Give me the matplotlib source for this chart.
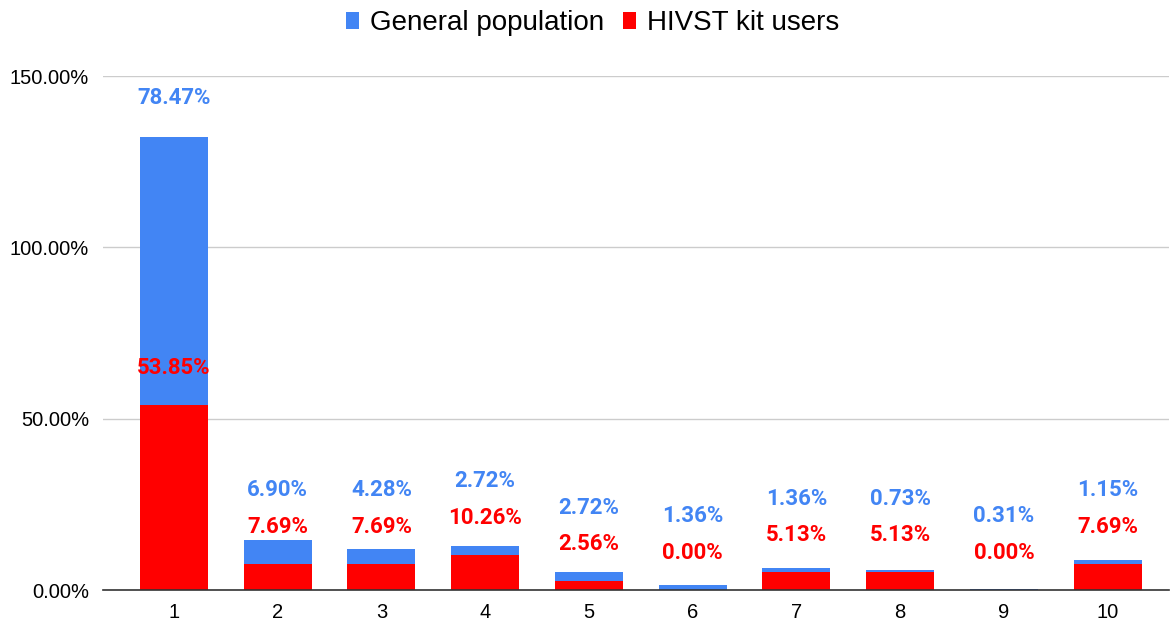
import matplotlib
matplotlib.use("Agg")
import matplotlib.pyplot as plt
from matplotlib.ticker import FuncFormatter, MultipleLocator

categories = ["1", "2", "3", "4", "5", "6", "7", "8", "9", "10"]
hivst = [53.85, 7.69, 7.69, 10.26, 2.56, 0.00, 5.13, 5.13, 0.00, 7.69]
general = [78.47, 6.90, 4.28, 2.72, 2.72, 1.36, 1.36, 0.73, 0.31, 1.15]

BLUE = "#4285f4"
RED = "#ff0000"

fig = plt.figure(figsize=(11.71, 6.24), dpi=100)
ax = fig.add_axes([103/1171, 34/624, (1169-103)/1171, (590-76)/624])

x = list(range(1, len(categories) + 1))
w = 0.655
ax.bar(x, hivst, width=w, color=RED, label="HIVST kit users", zorder=3)
ax.bar(x, general, width=w, bottom=hivst, color=BLUE, label="General population", zorder=3)

for xi, r, g in zip(x, hivst, general):
    ry = r + 10.8
    by = max(r + g + 11.4, ry + 10.7)
    ax.text(xi, ry, f"{r:.2f}%", ha="center", va="center", color=RED,
            fontsize=16, fontweight="bold", family="Roboto", zorder=4)
    ax.text(xi, by, f"{g:.2f}%", ha="center", va="center", color=BLUE,
            fontsize=16, fontweight="bold", family="Roboto", zorder=4)

ax.set_xlim(0.317, 10.59)
ax.set_ylim(0, 150)
ax.set_xticks(x)
ax.set_xticklabels(categories)
ax.yaxis.set_major_locator(MultipleLocator(50))
ax.yaxis.set_major_formatter(FuncFormatter(lambda v, p: f"{v:.2f}%"))
for lab in ax.get_xticklabels() + ax.get_yticklabels():
    lab.set_family("Liberation Sans")
    lab.set_fontsize(14.5)
ax.tick_params(axis="both", length=0)
ax.tick_params(axis="x", pad=9)
ax.tick_params(axis="y", pad=10)
ax.grid(axis="y", color="#cccccc", linewidth=1, zorder=0)
for s in ["top", "right", "left"]:
    ax.spines[s].set_visible(False)
ax.spines["bottom"].set_color("#333333")
ax.spines["bottom"].set_linewidth(1.2)
ax.spines["bottom"].set_zorder(5)

h, l = ax.get_legend_handles_labels()
fig.legend(h[::-1], l[::-1], loc="upper center", bbox_to_anchor=(0.506, 1.024), ncol=2,
           frameon=False, prop={"family": "Liberation Sans", "size": 20},
           handlelength=0.45, handleheight=0.55, handletextpad=0.4, columnspacing=0.7)

fig.savefig("out.png", dpi=100)
